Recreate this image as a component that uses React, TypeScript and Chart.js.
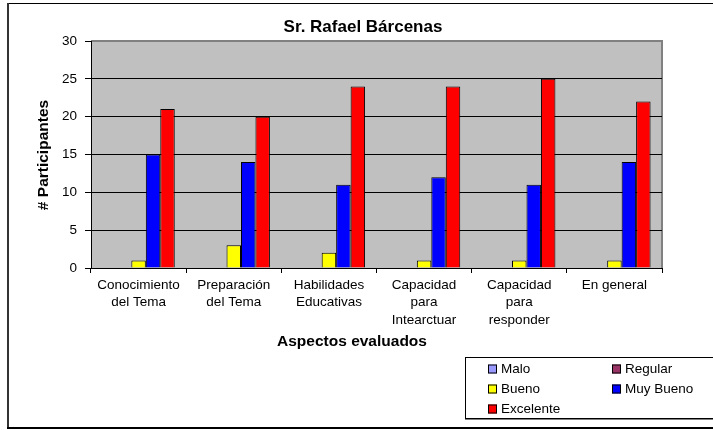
import React, { useEffect, useRef } from "react";
import { Chart, registerables } from "chart.js";

Chart.register(...registerables);

const categories: string[][] = [
  ["Conocimiento", "del Tema"],
  ["Preparación", "del Tema"],
  ["Habilidades", "Educativas"],
  ["Capacidad", "para", "Intearctuar"],
  ["Capacidad", "para", "responder"],
  ["En general"],
];
const seriesNames = ["Malo", "Regular", "Bueno", "Muy Bueno", "Excelente"];
const seriesColors = ["#9999FF", "#993366", "#FFFF00", "#0000FF", "#FF0000"];
const malo = [0, 0, 0, 0, 0, 0];
const regular = [0, 0, 0, 0, 0, 0];
const bueno = [1, 3, 2, 1, 1, 1];
const muyBueno = [15, 14, 11, 12, 11, 14];
const excelente = [21, 20, 24, 24, 25, 22];
const yMin = 0;
const yMax = 30;
const yStep = 5;
const chartTitle = "Sr. Rafael Bárcenas";
const xTitle = "Aspectos evaluados";
const yTitle = "# Participantes";

const FONT = "'Liberation Sans', Arial, sans-serif";

const decor = {
  id: "decor",
  beforeDraw(chart: any) {
    const { ctx, chartArea: a } = chart;
    ctx.save();
    ctx.fillStyle = "#ffffff";
    ctx.fillRect(0, 0, chart.width, chart.height);
    ctx.fillStyle = "#C0C0C0";
    ctx.fillRect(a.left, a.top, a.right - a.left, a.bottom - a.top);
    ctx.strokeStyle = "#808080";
    ctx.lineWidth = 2;
    ctx.beginPath();
    ctx.moveTo(a.left, a.top);
    ctx.lineTo(a.right, a.top);
    ctx.lineTo(a.right, a.bottom);
    ctx.stroke();
    ctx.restore();
  },
  afterDraw(chart: any) {
    const { ctx } = chart;
    ctx.save();
    // outer frame
    ctx.strokeStyle = "#000";
    ctx.lineWidth = 1;
    ctx.beginPath();
    ctx.moveTo(8, 3.5);
    ctx.lineTo(720, 3.5);
    ctx.stroke();
    ctx.strokeStyle = "#333";
    ctx.lineWidth = 2;
    ctx.beginPath();
    ctx.moveTo(8, 3);
    ctx.lineTo(8, 429);
    ctx.stroke();
    ctx.strokeStyle = "#000";
    ctx.beginPath();
    ctx.moveTo(7, 428);
    ctx.lineTo(720, 428);
    ctx.stroke();

    // titles
    ctx.fillStyle = "#000";
    ctx.textAlign = "center";
    ctx.textBaseline = "middle";
    ctx.font = `bold 17px ${FONT}`;
    ctx.fillText(chartTitle, 363, 27);
    ctx.font = `bold 15.5px ${FONT}`;
    ctx.fillText(xTitle, 352, 342);
    ctx.save();
    ctx.translate(44, 155);
    ctx.rotate(-Math.PI / 2);
    ctx.fillText(yTitle, 0, 0);
    ctx.restore();

    // legend
    const lx = 465, ly = 357, lw = 270, lh = 61;
    ctx.fillStyle = "#fff";
    ctx.fillRect(lx, ly, lw, lh);
    ctx.strokeStyle = "#808080";
    ctx.lineWidth = 2;
    ctx.beginPath();
    ctx.moveTo(lx, ly + lh + 1);
    ctx.lineTo(lx + lw, ly + lh + 1);
    ctx.stroke();
    ctx.strokeStyle = "#000";
    ctx.lineWidth = 1;
    ctx.strokeRect(lx + 0.5, ly + 0.5, lw, lh);
    ctx.font = `13.5px ${FONT}`;
    ctx.textAlign = "left";
    ctx.textBaseline = "middle";
    chart.data.datasets.forEach((ds: any, i: number) => {
      const col = i % 2;
      const row = Math.floor(i / 2);
      const sx = col === 0 ? 488 : 612;
      const sy = 369 + row * 20;
      ctx.fillStyle = ds.backgroundColor;
      ctx.fillRect(sx, sy - 4.5, 9, 9);
      ctx.strokeStyle = "#000";
      ctx.strokeRect(sx + 0.5, sy - 4.5 + 0.5, 8, 8);
      ctx.fillStyle = "#000";
      ctx.fillText(ds.label, sx + 13, sy + 0.5);
    });
    ctx.restore();
  },
};

export default function App() {
  const ref = useRef<HTMLCanvasElement | null>(null);
  useEffect(() => {
    if (!ref.current) return;
    const data = [malo, regular, bueno, muyBueno, excelente];
    const chart = new Chart(ref.current, {
      type: "bar",
      data: {
        labels: categories,
        datasets: seriesNames.map((name, i) => ({
          label: name,
          data: data[i],
          backgroundColor: seriesColors[i],
          borderColor: "#000",
          borderWidth: 1,
          borderSkipped: "bottom",
          categoryPercentage: 0.76,
          barPercentage: 1,
        })),
      },
      options: {
        animation: false,
        responsive: false,
        devicePixelRatio: 1,
        layout: { padding: { left: 0, top: 41, right: 51, bottom: 0 } },
        plugins: {
          legend: { display: false },
          title: { display: false },
          tooltip: { enabled: false },
        },
        scales: {
          x: {
            offset: true,
            grid: {
              drawOnChartArea: false,
              drawTicks: true,
              tickLength: 5,
              tickColor: "#000",
              color: "#000",
            },
            border: { display: true, color: "#000", width: 1 },
            ticks: {
              color: "#000",
              font: { family: FONT, size: 13.5, lineHeight: 1.27 },
              padding: 4,
              maxRotation: 0,
              minRotation: 0,
              autoSkip: false,
            },
            afterFit(scale: any) {
              scale.height = 162;
            },
          },
          y: {
            min: yMin,
            max: yMax,
            grid: {
              color: (c: any) => (c.tick && c.tick.value === yMax ? "rgba(0,0,0,0)" : "#000"),
              tickColor: "#000",
              tickLength: 6,
              lineWidth: 1,
            },
            border: { display: true, color: "#000", width: 1 },
            ticks: {
              stepSize: yStep,
              color: "#000",
              font: { family: FONT, size: 13.5 },
              padding: 8,
            },
            afterFit(scale: any) {
              scale.width = 91;
            },
          },
        },
      },
      plugins: [decor],
    });
    return () => chart.destroy();
  }, []);
  return (
    <div style={{ position: "absolute", left: 0, top: 0, width: 713, height: 430 }}>
      <canvas ref={ref} width={713} height={430} style={{ display: "block" }} />
    </div>
  );
}
